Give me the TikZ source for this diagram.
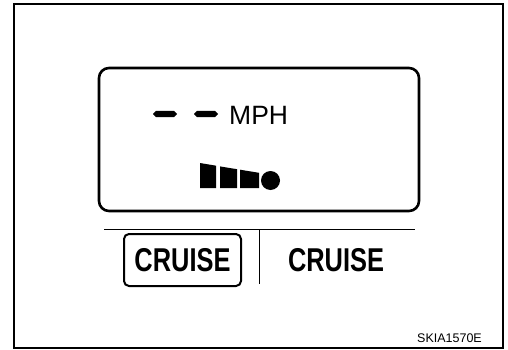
\documentclass[tikz,border=0pt]{standalone}
\usepackage{fontspec}
\setmainfont{Liberation Sans}
\usepackage{tikz}
\tikzset{
  frame/.style={line width=1.6pt},
  lcd/.style={line width=2.6pt,rounded corners=10pt},
  seg/.style={fill=black,draw=none},
  rule/.style={line width=0.9pt},
  btn/.style={line width=2pt,rounded corners=5pt},
  lbl/.style={inner sep=0pt,font=\fontsize{33}{33}\selectfont\bfseries}
}
\newcommand{\lcddash}[1]{\fill (#1,114) -- (#1+3,110.8) -- (#1+21,110.8) -- (#1+24,114) -- (#1+21,117.2) -- (#1+3,117.2) -- cycle;}

\begin{document}
\begin{tikzpicture}[x=1pt,y=-1pt]
\useasboundingbox (0,0) rectangle (508,350);
\draw[frame] (14,4) rectangle (503,348);
\draw[lcd] (99,68) rectangle (419,211);
\lcddash{153} \lcddash{194}
\node[anchor=west,inner sep=0pt,font=\fontsize{26.5}{26.5}\selectfont] (mph) at (229,115) {MPH};
\fill[seg] (200,163) -- (216,165.7) -- (216,188) -- (200,188) -- cycle;
\fill[seg] (220,166.4) -- (237,169.2) -- (237,188) -- (220,188) -- cycle;
\fill[seg] (240,169.7) -- (259,172.8) -- (259,188) -- (240,188) -- cycle;
\fill[seg] (270.5,180.5) circle (9.5);
\draw[rule] (104,229) -- (415,229);
\draw[rule] (259,229) -- (259,284);
\draw[btn] (124,234) rectangle (241,286);
\node[lbl] (cruiseon) at (182.5,260) {\scalebox{0.77}[1]{CRUISE}};
\node[lbl] (cruiseoff) at (336,260) {\scalebox{0.77}[1]{CRUISE}};
\node[anchor=south east,inner sep=0pt,font=\fontsize{12.5}{12.5}\selectfont] (code) at (482,343) {SKIA1570E};
\end{tikzpicture}
\end{document}
